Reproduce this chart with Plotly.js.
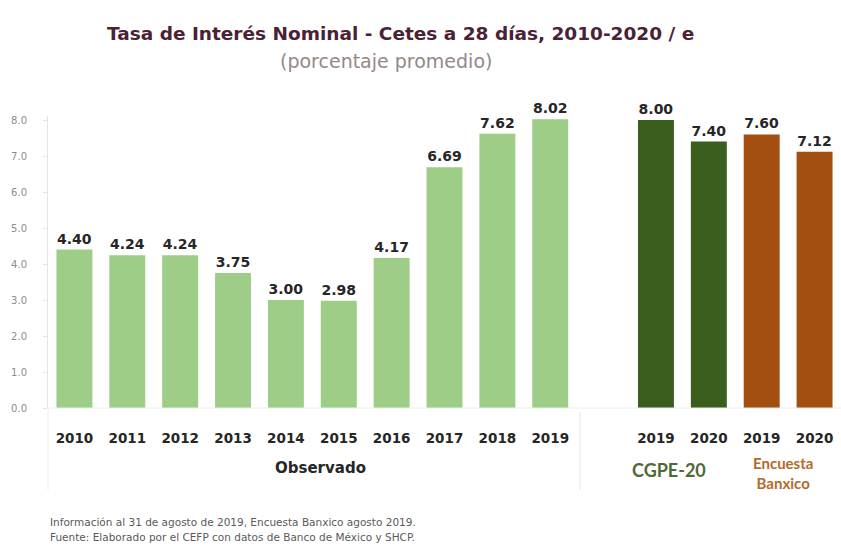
<!DOCTYPE html>
<html>
<head>
<meta charset="utf-8">
<script src="https://cdn.plot.ly/plotly-3.0.1.min.js"></script>
<style>html,body{margin:0;padding:0;background:#fff;}#chart{width:841px;height:553px;}</style>
</head>
<body>
<div id="chart"></div>
<script>
// Category keys (unique) and their displayed tick labels
const categories = ['2010','2011','2012','2013','2014','2015','2016','2017','2018','2019obs','gap','2019cgpe','2020cgpe','2019banx','2020banx'];
const tickLabels = ['2010','2011','2012','2013','2014','2015','2016','2017','2018','2019','','2019','2020','2019','2020'];

const observedCats = ['2010','2011','2012','2013','2014','2015','2016','2017','2018','2019obs'];
const observedVals = [4.40, 4.24, 4.24, 3.75, 3.00, 2.98, 4.17, 6.69, 7.62, 8.02];

const cgpeCats = ['2019cgpe','2020cgpe'];
const cgpeVals = [8.00, 7.40];

const banxicoCats = ['2019banx','2020banx'];
const banxicoVals = [7.60, 7.12];

const yTicks = [0,1,2,3,4,5,6,7,8];

const FONT = '"DejaVu Sans", Lato, sans-serif';
const labelFont = {family: FONT, size: 14, color: '#262626', weight: 'bold'};

// plot area geometry helpers (pixels -> paper)
const PT = 116, PB = 408, PL = 48, PR = 841;
const py = p => (PB - p) / (PB - PT);
const px = p => (p - PL) / (PR - PL);

function barTrace(cats, vals, color) {
  return {
    type: 'bar', x: cats, y: vals,
    marker: {color: color},
    width: 0.68,
    text: vals.map(v => v.toFixed(2)),
    textposition: 'outside',
    textfont: labelFont,
    constraintext: 'none',
    cliponaxis: false,
    hoverinfo: 'skip'
  };
}

const data = [
  barTrace(observedCats, observedVals, '#9dcd87'),
  barTrace(cgpeCats, cgpeVals, '#3b5e1e'),
  barTrace(banxicoCats, banxicoVals, '#a34f0f')
];

const layout = {
  width: 841, height: 553,
  margin: {l: PL, r: 841 - PR, t: PT, b: 553 - PB},
  paper_bgcolor: '#ffffff', plot_bgcolor: '#ffffff',
  showlegend: false,
  barmode: 'overlay',
  font: {family: FONT},
  xaxis: {
    type: 'category',
    categoryorder: 'array', categoryarray: categories,
    range: [-0.5, 14.5],
    tickvals: categories, ticktext: tickLabels,
    tickfont: {family: FONT, size: 13.5, color: '#262626', weight: 'bold'},
    showgrid: false, zeroline: false, showline: false,
    ticks: '', ticklabelstandoff: 20
  },
  yaxis: {
    range: [0, 8 * (PB - PT) / 288],
    tickvals: yTicks, ticktext: yTicks.map(v => v.toFixed(1)),
    tickfont: {family: FONT, size: 10, color: '#8c8c8c'},
    showgrid: false, zeroline: false,
    showline: true, linecolor: '#e4e4e4', linewidth: 1,
    ticks: 'outside', ticklen: 4, tickcolor: '#e4e4e4',
    ticklabelstandoff: 14
  },
  shapes: [
    {type: 'line', xref: 'paper', yref: 'paper', x0: px(580), x1: px(580), y0: py(412), y1: py(490), line: {color: '#e6e6e6', width: 1}},
    {type: 'line', xref: 'paper', yref: 'paper', x0: 0.0, x1: 0.0, y0: 0, y1: py(490), line: {color: '#ececec', width: 1}},
    {type: 'line', xref: 'paper', yref: 'paper', x0: 0.0, x1: 1, y0: 0, y1: 0, line: {color: '#ececec', width: 1}}
  ],
  annotations: [
    {text: 'Tasa de Interés Nominal - Cetes a 28 días, 2010-2020 / e', xref: 'paper', yref: 'paper', x: px(400), y: py(33), xanchor: 'center', yanchor: 'middle', showarrow: false,
     font: {family: FONT, size: 18.5, color: '#4b2136', weight: 'bold'}},
    {text: '(porcentaje promedio)', xref: 'paper', yref: 'paper', x: px(386), y: py(61), xanchor: 'center', yanchor: 'middle', showarrow: false,
     font: {family: FONT, size: 19, color: '#948888'}},
    {text: 'Observado', xref: 'paper', yref: 'paper', x: px(320), y: py(468), xanchor: 'center', yanchor: 'middle', showarrow: false,
     font: {family: FONT, size: 15, color: '#262626', weight: 'bold'}},
    {text: 'CGPE-20', xref: 'paper', yref: 'paper', x: px(669), y: py(470), xanchor: 'center', yanchor: 'middle', showarrow: false,
     font: {family: 'Lato, sans-serif', size: 18, color: '#4e6a37', weight: 'bold'}},
    {text: 'Encuesta<br>Banxico', xref: 'paper', yref: 'paper', x: px(783), y: py(473), xanchor: 'center', yanchor: 'middle', showarrow: false,
     font: {family: 'Lato, sans-serif', size: 15, color: '#b46a2a', weight: 'bold'}},
    {text: 'Información al 31 de agosto de 2019, Encuesta Banxico agosto 2019.', xref: 'paper', yref: 'paper', x: 0, y: py(522), xanchor: 'left', yanchor: 'middle', showarrow: false,
     font: {family: FONT, size: 10.5, color: '#5a5a5a'}},
    {text: 'Fuente: Elaborado por el CEFP con datos de Banco de México y SHCP.', xref: 'paper', yref: 'paper', x: 0, y: py(537), xanchor: 'left', yanchor: 'middle', showarrow: false,
     font: {family: FONT, size: 10.5, color: '#5a5a5a'}}
  ]
};

Plotly.newPlot('chart', data, layout, {displayModeBar: false, staticPlot: true});
</script>
</body>
</html>
